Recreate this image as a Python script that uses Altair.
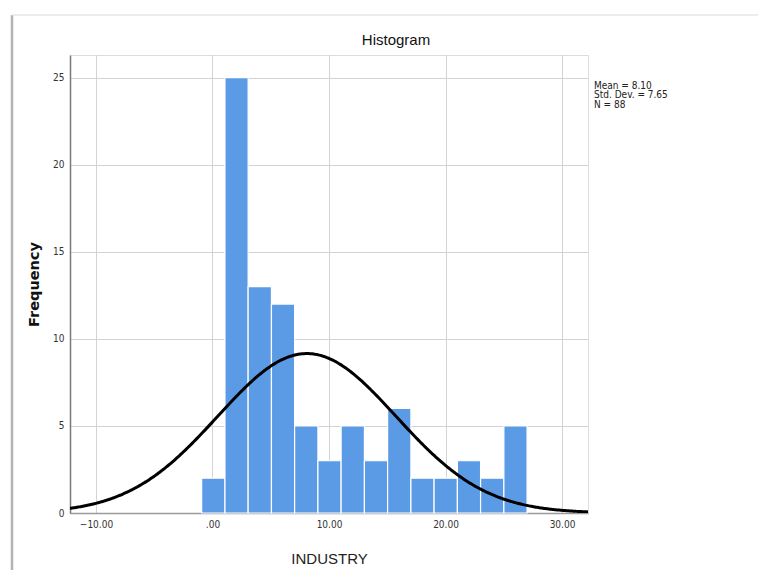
import altair as alt
import pandas as pd

# ---- data ----
bin_starts = [-0.93, 1.07, 3.06, 5.06, 7.05, 9.05, 11.04, 13.04, 15.03, 17.03, 19.02, 21.02, 23.01, 25.01]
bin_ends   = [1.07, 3.06, 5.06, 7.05, 9.05, 11.04, 13.04, 15.03, 17.03, 19.02, 21.02, 23.01, 25.01, 27.00]
counts     = [2, 25, 13, 12, 5, 3, 5, 3, 6, 2, 2, 3, 2, 5]

MEAN = 8.10
SD = 7.65
N = 88
BIN_WIDTH = 1.995

x_ticks = [-10, 0, 10, 20, 30]
y_ticks = [0, 5, 10, 15, 20, 25]
X_DOMAIN = [-12.23, 32.23]
Y_DOMAIN = [0, 26.3]

TITLE = "Histogram"
stats_lines = [f"Mean = {MEAN:.2f}", f"Std. Dev. = {SD:.2f}", f"N = {N}"]

FONT = "Liberation Sans"
NARROW = "'Liberation Sans Narrow', 'DejaVu Sans Condensed', 'Liberation Sans', sans-serif"

bars_df = pd.DataFrame({"start": bin_starts, "end": bin_ends, "count": counts})
one_row = pd.DataFrame({"t": [0]})

xscale = alt.Scale(domain=X_DOMAIN, nice=False, zero=False)
yscale = alt.Scale(domain=Y_DOMAIN, nice=False)

x_axis = alt.Axis(
    values=x_ticks,
    labelExpr="datum.value == 0 ? '.00' : format(datum.value, '.2f')",
    title="INDUSTRY",
    titleFontSize=15,
    titleFontWeight="normal",
    titleColor="#222222",
    titlePadding=22,
    labelFontSize=10,
    labelColor="#333333",
    labelPadding=6,
    ticks=False,
    grid=True,
    gridColor="#d3d3d3",
    domainColor="#9a9a9a",
    domainWidth=1.5,
    labelFont=NARROW,
    titleFont=FONT,
)
y_axis = alt.Axis(
    values=y_ticks,
    title="Frequency",
    titleFontSize=14.5,
    titleFontWeight="bold",
    titleColor="#111111",
    titlePadding=11,
    labelFontSize=10,
    labelColor="#333333",
    labelPadding=6,
    ticks=False,
    grid=True,
    gridColor="#d3d3d3",
    domainColor="#7a7a7a",
    domainWidth=1.5,
    labelFont=NARROW,
    titleFont="DejaVu Sans",
)

bars = alt.Chart(bars_df).mark_rect(
    color="#5b9be6", stroke="white", strokeWidth=1.2
).encode(
    x=alt.X("start:Q", scale=xscale, axis=x_axis),
    x2="end:Q",
    y=alt.Y("count:Q", scale=yscale, axis=y_axis),
    y2=alt.datum(0),
)

curve = alt.Chart(alt.sequence(start=X_DOMAIN[0], stop=X_DOMAIN[1] + 0.05, step=0.1, as_="x")).transform_calculate(
    dens=f"{N} * {BIN_WIDTH} * exp(-0.5 * pow((datum.x - {MEAN}) / {SD}, 2)) / ({SD} * sqrt(2 * PI))"
).mark_line(color="black", strokeWidth=3, clip=True).encode(
    x=alt.X("x:Q", scale=xscale),
    y=alt.Y("dens:Q", scale=yscale),
)

stats = alt.Chart(one_row).mark_text(
    text=stats_lines, align="left", baseline="top", fontSize=10, font=NARROW,
    lineHeight=9.8, color="#222222"
).encode(x=alt.value(524), y=alt.value(25.5))

title = alt.Chart(one_row).mark_text(
    text=TITLE, align="center", baseline="middle", fontSize=15, font=FONT, color="#111111"
).encode(x=alt.value(326), y=alt.value(-15))

frame_left = alt.Chart(one_row).mark_rule(color="#b4b4b4", strokeWidth=2.5).encode(
    x=alt.value(-58), y=alt.value(-40), y2=alt.value(530)
)
frame_top = alt.Chart(one_row).mark_rule(color="#e6e6e6", strokeWidth=1.5).encode(
    x=alt.value(-58), x2=alt.value(700), y=alt.value(-40)
)

chart = alt.layer(frame_left, frame_top, bars, curve, stats, title).properties(
    width=518,
    height=458,
    autosize=alt.AutoSizeParams(type="none"),
    padding={"left": 62, "top": 47, "right": 170, "bottom": 57},
).configure_view(stroke=None).configure(background="white")

chart.save("out.html", embed_options={"renderer": "svg", "actions": False})
